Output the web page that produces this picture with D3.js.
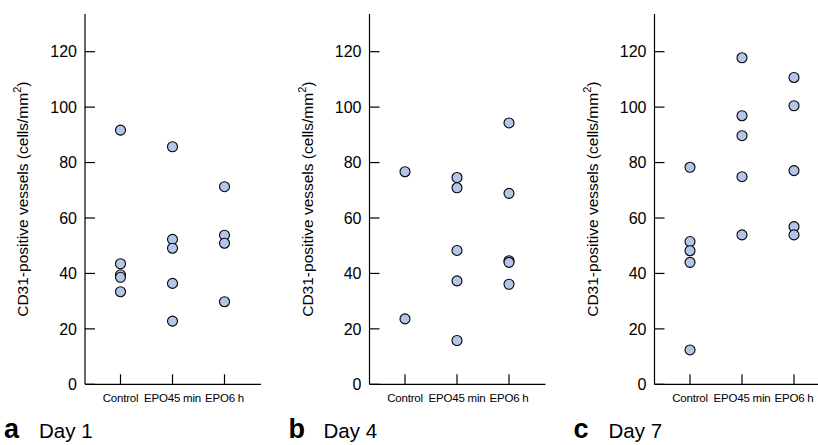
<!DOCTYPE html>
<html>
<head>
<meta charset="utf-8">
<script src="https://cdn.jsdelivr.net/npm/d3@7"></script>
<style>
  body { margin: 0; background: #fff; }
  svg { display: block; font-family: "Liberation Sans", Arial, sans-serif; }
</style>
</head>
<body>
<div id="chart"></div>
<script>
// Data
const groups = ["Control", "EPO45 min", "EPO6 h"];
const panelLetters = ["a", "b", "c"];
const panelDays = ["Day 1", "Day 4", "Day 7"];
const yTicks = [0, 20, 40, 60, 80, 100, 120];

// values per panel, per group
const day1 = [
  [91.7, 43.5, 39.5, 38.6, 33.4],
  [85.7, 52.3, 49.1, 36.4, 22.8],
  [71.3, 53.8, 50.9, 29.8]
];
const day4 = [
  [76.7, 23.6],
  [74.6, 70.9, 48.3, 37.3, 15.8],
  [94.3, 68.9, 44.6, 44.0, 36.1]
];
const day7 = [
  [78.3, 51.5, 48.2, 44.0, 12.4],
  [117.8, 96.9, 89.7, 74.9, 53.9],
  [110.7, 100.5, 77.1, 56.9, 53.9]
];
const panels = [day1, day4, day7];

const width = 818, height = 445;
const axisX0 = [85, 369.5, 654.5]; // y-axis position in each panel
const plotTop = 14, plotBottom = 384.3;
const axisLen = 176;

const svg = d3.select("#chart").append("svg")
  .attr("width", width)
  .attr("height", height)
  .attr("viewBox", [0, 0, width, height]);

const y = d3.scaleLinear().domain([0, 133.6]).range([plotBottom, plotTop]);
const x = d3.scalePoint().domain(groups).range([35.5, 139.5]);

panels.forEach((data, p) => {
  const g = svg.append("g").attr("transform", `translate(${axisX0[p]},0)`);

  // y axis: line with inward ticks, labels on the left
  g.append("line")
    .attr("x1", 0).attr("x2", 0)
    .attr("y1", plotTop).attr("y2", plotBottom)
    .attr("stroke", "#000").attr("stroke-width", 1.2);
  const yt = g.append("g").selectAll("g").data(yTicks).join("g")
    .attr("transform", d => `translate(0,${y(d)})`);
  yt.append("line").attr("x1", 0).attr("x2", 10).attr("stroke", "#000").attr("stroke-width", 1.2);
  yt.append("text")
    .attr("x", -8).attr("dy", "0.36em")
    .attr("text-anchor", "end")
    .attr("font-size", 16)
    .text(d => d);

  // x axis
  g.append("line")
    .attr("x1", 0).attr("x2", axisLen)
    .attr("y1", plotBottom).attr("y2", plotBottom)
    .attr("stroke", "#000").attr("stroke-width", 1.2);
  const xt = g.append("g").selectAll("g").data(groups).join("g")
    .attr("transform", d => `translate(${x(d)},${plotBottom})`);
  xt.append("line").attr("y1", 0).attr("y2", -10).attr("stroke", "#000").attr("stroke-width", 1.2);
  xt.append("text")
    .attr("y", 18)
    .attr("text-anchor", "middle")
    .attr("font-size", 11.5)
    .attr("letter-spacing", -0.2)
    .text(d => d);

  // y axis title
  const title = g.append("text")
    .attr("transform", `translate(-57,${(plotTop + plotBottom) / 2}) rotate(-90)`)
    .attr("text-anchor", "middle")
    .attr("font-size", 15.5);
  title.append("tspan").text("CD31-positive vessels (cells/mm");
  title.append("tspan").attr("dy", -7).attr("font-size", 11).text("2");
  title.append("tspan").attr("dy", 7).text(")");

  // points
  data.forEach((vals, gi) => {
    g.append("g").selectAll("circle").data(vals).join("circle")
      .attr("cx", x(groups[gi]))
      .attr("cy", d => y(d))
      .attr("r", 5)
      .attr("fill", "#b3c6ea")
      .attr("stroke", "#000")
      .attr("stroke-width", 1.1);
  });

  // panel label
  g.append("text")
    .attr("x", -81).attr("y", 438)
    .attr("font-weight", "bold").attr("font-size", 27)
    .text(panelLetters[p]);
  g.append("text")
    .attr("x", -46).attr("y", 438)
    .attr("font-size", 20.5)
    .text(panelDays[p]);
});
</script>
</body>
</html>
